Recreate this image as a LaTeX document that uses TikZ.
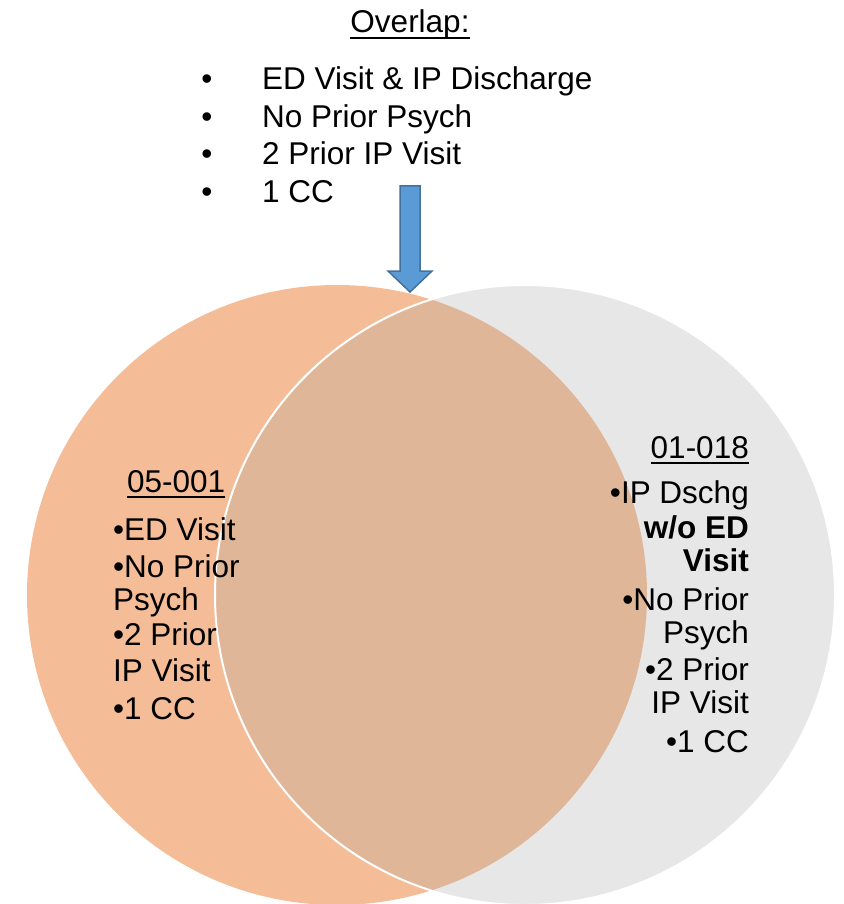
\documentclass[tikz,border=0pt]{standalone}
\usepackage{fontspec}
\setmainfont{Liberation Sans}
\definecolor{peach}{HTML}{F5BD97}
\definecolor{lgray}{HTML}{E7E7E7}
\definecolor{overlapc}{HTML}{E0B699}
\definecolor{arrowfill}{HTML}{5B9BD5}
\definecolor{arrowline}{HTML}{41719C}
\tikzset{
  txt/.style={font=\fontsize{31.5}{34}\selectfont, inner sep=0pt, text=black},
  uline/.style={line width=1.8pt, black},
}
\begin{document}
\begin{tikzpicture}[x=1pt,y=-1pt]
\useasboundingbox (0,0) rectangle (843,904);
% circles
\fill[peach] (337,595) circle (310);
\fill[lgray] (525,595) circle (310);
\begin{scope}
  \clip (337,595) circle (310);
  \fill[overlapc] (525,595) circle (310);
\end{scope}
\draw[white, line width=2pt] (525,595) circle (310);

% title
\node[txt, anchor=base] (title) at (410,33) {Overlap:};
\draw[uline] ([yshift=-5pt]title.base west) -- ([yshift=-5pt]title.base east);

% top list
\node[txt, anchor=base] (b1) at (207,90) {•};
\node[txt, anchor=base west] (o1) at (262,90) {ED Visit \& IP Discharge};
\node[txt, anchor=base] (b2) at (207,128) {•};
\node[txt, anchor=base west] (o2) at (262,128) {No Prior Psych};
\node[txt, anchor=base] (b3) at (207,165) {•};
\node[txt, anchor=base west] (o3) at (262,165) {2 Prior IP Visit};
\node[txt, anchor=base] (b4) at (207,202) {•};
\node[txt, anchor=base west] (o4) at (262,202) {1 CC};

% left block
\node[txt, anchor=base west] (lh) at (127,492) {05-001};
\draw[uline] ([yshift=-5pt]lh.base west) -- ([yshift=-5pt]lh.base east);
\node[txt, anchor=base west] (l1) at (113,540) {•ED Visit};
\node[txt, anchor=base west] (l2) at (113,577) {•No Prior};
\node[txt, anchor=base west] (l3) at (113,610) {Psych};
\node[txt, anchor=base west] (l4) at (113,645) {•2 Prior};
\node[txt, anchor=base west] (l5) at (113,681) {IP Visit};
\node[txt, anchor=base west] (l6) at (113,719) {•1 CC};

% right block
\node[txt, anchor=base east] (rh) at (749,458) {01-018};
\draw[uline] ([yshift=-5pt]rh.base west) -- ([yshift=-5pt]rh.base east);
\node[txt, anchor=base east] (r1) at (749,503) {•IP Dschg};
\node[txt, anchor=base east] (r2) at (749,538) {\bfseries w/o ED};
\node[txt, anchor=base east] (r3) at (749,571) {\bfseries Visit};
\node[txt, anchor=base east] (r4) at (749,610) {•No Prior};
\node[txt, anchor=base east] (r5) at (749,643) {Psych};
\node[txt, anchor=base east] (r6) at (749,680) {•2 Prior};
\node[txt, anchor=base east] (r7) at (749,713) {IP Visit};
\node[txt, anchor=base east] (r8) at (749,752) {•1 CC};

% arrow
\draw[fill=arrowfill, draw=arrowline, line width=1.5pt, line join=miter]
  (400,186) -- (420,186) -- (420,271) -- (432,271) -- (410,292) -- (388,271) -- (400,271) -- cycle;
\end{tikzpicture}
\end{document}
